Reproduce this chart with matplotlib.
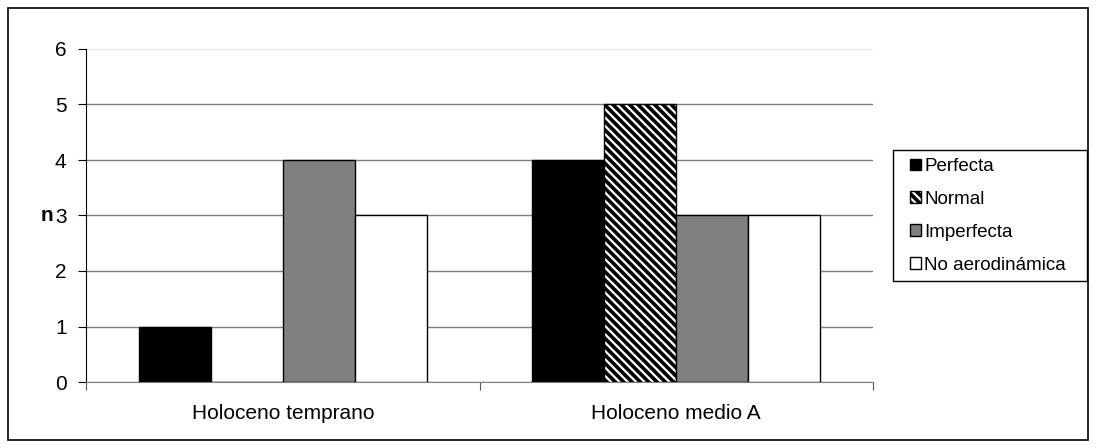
import numpy as np
import matplotlib.pyplot as plt
from matplotlib.patches import Rectangle

plt.rcParams['font.family'] = ['Liberation Sans', 'DejaVu Sans']
plt.rcParams['hatch.linewidth'] = 2.6

# conteos por periodo y tipo de forma
periodos = ['Holoceno temprano', 'Holoceno medio A']
series = ['Perfecta', 'Normal', 'Imperfecta', 'No aerodinámica']
perfecta = [1, 4]
normal = [0, 5]
imperfecta = [4, 3]
no_aero = [3, 3]

valores = [perfecta, normal, imperfecta, no_aero]
colores = ['black', 'white', '#808080', 'white']
tramas = [None, '\\\\\\\\', None, None]

W, H = 1096, 448
fig = plt.figure(figsize=(W / 100, H / 100), dpi=100)
ax = fig.add_axes([86 / W, 66 / H, (873 - 86) / W, (382 - 49) / H])

# marco exterior y marco de la leyenda
fig.patches.append(Rectangle((8 / W, 8 / H), 1080 / W, 432 / H,
                             transform=fig.transFigure, fill=False,
                             edgecolor='black', linewidth=1.2))
fig.patches.append(Rectangle((893 / W, (H - 281) / H), 194 / W, 131 / H,
                             transform=fig.transFigure, fill=False,
                             edgecolor='black', linewidth=1.0))

x = np.arange(len(periodos))
w = 72 / 393.5
for i, (v, c, h, nom) in enumerate(zip(valores, colores, tramas, series)):
    pos = x + (i - 1.5) * w
    ax.bar(pos, v, width=w, color=c, edgecolor='black', linewidth=1.0,
           hatch=h, label=nom, zorder=3)

ax.set_xlim(-0.5, 1.5)
ax.set_ylim(0, 6)
ax.set_yticks(range(7))
ax.yaxis.grid(True, color='#7f7f7f', linewidth=1.0, zorder=0)
ax.set_axisbelow(True)
# la linea superior es casi invisible en el original
ax.yaxis.get_gridlines()[-1].set_color('#e6e6e6')

ax.set_xticks([-0.5, 0.5, 1.5])
ax.set_xticklabels([])
ax.set_xticks(x, minor=True)
ax.set_xticklabels(periodos, minor=True)
ax.tick_params(axis='x', which='minor', length=0, pad=16, labelsize=15)
ax.tick_params(axis='x', which='major', length=6, direction='out',
               color='#555555')
ax.tick_params(axis='y', length=6, direction='out', labelsize=15, pad=8)

for s in ['top', 'right']:
    ax.spines[s].set_visible(False)
ax.spines['left'].set_color('black')
ax.spines['bottom'].set_color('#7f7f7f')

ax.set_ylabel('n', fontsize=15, fontweight='bold', rotation=0)
ax.yaxis.set_label_coords(-0.049, 0.5)
ax.yaxis.label.set_verticalalignment('center')

leg = ax.legend(loc='center left', bbox_to_anchor=(910 / W, (H - 216) / H),
                bbox_transform=fig.transFigure, fontsize=13.5,
                handlelength=0.6, handleheight=0.6, handletextpad=0.15,
                labelspacing=0.85, frameon=False,
                borderpad=0, borderaxespad=0)

fig.savefig('out.png', dpi=100)
